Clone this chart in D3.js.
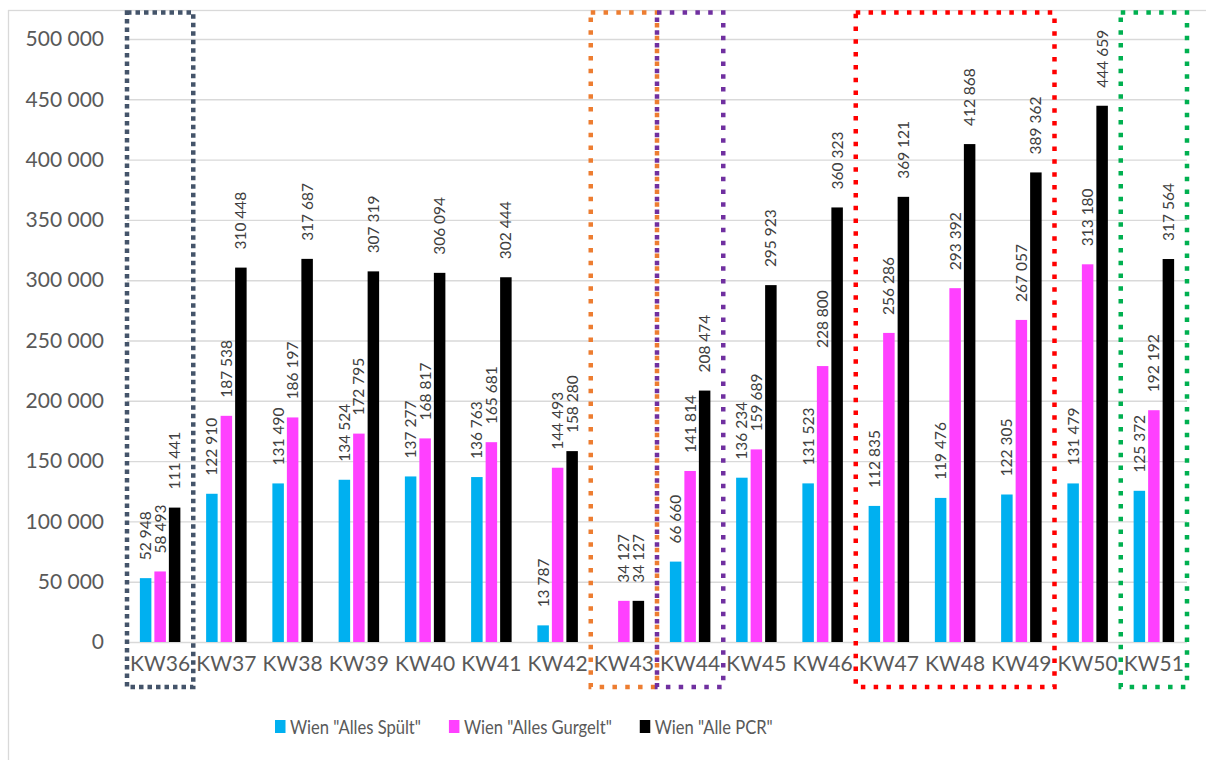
<!DOCTYPE html>
<html>
<head>
<meta charset="utf-8">
<script src="https://cdn.jsdelivr.net/npm/d3@7"></script>
<style>
  html, body { margin: 0; padding: 0; background: #fff; }
  svg { display: block; font-family: Lato, "Open Sans", sans-serif; }
</style>
</head>
<body>
<svg id="chart" width="1206" height="760"></svg>
<script>
// Weekly test counts, Vienna
const weeks = ["KW36","KW37","KW38","KW39","KW40","KW41","KW42","KW43","KW44","KW45","KW46","KW47","KW48","KW49","KW50","KW51"];
const allesSpuelt  = [52948, 122910, 131490, 134524, 137277, 136763, 13787, null, 66660, 136234, 131523, 112835, 119476, 122305, 131479, 125372];
const allesGurgelt = [58493, 187538, 186197, 172795, 168817, 165681, 144493, 34127, 141814, 159689, 228800, 256286, 293392, 267057, 313180, 192192];
const allePCR      = [111441, 310448, 317687, 307319, 306094, 302444, 158280, 34127, 208474, 295923, 360323, 369121, 412868, 389362, 444659, 317564];
const seriesNames  = ['Wien "Alles Spült"', 'Wien "Alles Gurgelt"', 'Wien "Alle PCR"'];
const seriesColors = ["#00B0F0", "#FF40FF", "#000000"];
const yTicks = [0, 50000, 100000, 150000, 200000, 250000, 300000, 350000, 400000, 450000, 500000];
// Highlighted week ranges: [first week, last week, colour]
const highlightFrom   = ["KW36", "KW43", "KW44", "KW47", "KW51"];
const highlightTo     = ["KW36", "KW43", "KW44", "KW49", "KW51"];
const highlightColors = ["#44546A", "#ED7D31", "#7030A0", "#FF0000", "#00B050"];

const series = [allesSpuelt, allesGurgelt, allePCR];

const svg = d3.select("#chart");
const plot = { left: 127, right: 1187, top: 39, bottom: 642 };

const x = d3.scaleBand().domain(weeks).range([plot.left, plot.right]).padding(0);
const y = d3.scaleLinear().domain([0, 500000]).range([plot.bottom, plot.top]);

const locale = d3.formatLocale({ decimal: ",", thousands: " ", grouping: [3], currency: ["", ""] });
const fmt = locale.format(",d");

// Chart frame
svg.append("rect")
  .attr("x", 8.5).attr("y", 10.5).attr("width", 1220).attr("height", 770)
  .attr("fill", "none").attr("stroke", "#D9D9D9").attr("stroke-width", 1.3);

// Gridlines + y tick labels
const yAxis = d3.axisLeft(y).tickValues(yTicks).tickSize(-(plot.right - plot.left)).tickPadding(23).tickFormat(fmt);
const gy = svg.append("g").attr("transform", `translate(${plot.left},0)`).call(yAxis);
gy.select(".domain").remove();
gy.selectAll(".tick line").attr("stroke", "#D9D9D9").attr("stroke-width", 1.4);
gy.selectAll(".tick text").attr("fill", "#595959").attr("font-size", 21).attr("font-family", "Lato, 'Open Sans', sans-serif");

// Category labels
const xAxis = d3.axisBottom(x).tickSize(0).tickPadding(14);
const gx = svg.append("g").attr("transform", `translate(0,${plot.bottom})`).call(xAxis);
gx.select(".domain").remove();
gx.selectAll(".tick text").attr("fill", "#595959").attr("font-size", 21).attr("font-family", "Lato, 'Open Sans', sans-serif");

// Bars
const barW = 11.5, barStep = 14.5;
const groupW = barStep * 2 + barW;
const barX = (w, s) => x(w) + x.bandwidth() / 2 - groupW / 2 + s * barStep;

series.forEach((vals, s) => {
  const data = weeks.map((w, i) => ({ w, v: vals[i] })).filter(d => d.v != null);
  svg.append("g").selectAll("rect").data(data).join("rect")
    .attr("x", d => barX(d.w, s))
    .attr("y", d => y(d.v))
    .attr("width", barW)
    .attr("height", d => y(0) - y(d.v))
    .attr("fill", seriesColors[s]);

  svg.append("g").selectAll("text").data(data).join("text")
    .attr("transform", d => `translate(${barX(d.w, s) + barW / 2},${y(d.v) - 18}) rotate(-90)`)
    .attr("dy", "0.35em")
    .attr("text-anchor", "start")
    .attr("font-size", 15.5)
    .attr("fill", "#404040")
    .text(d => fmt(d.v));
});

// Dotted highlight frames around week ranges
highlightFrom.forEach((from, i) => {
  const x0 = x(from), x1 = x(highlightTo[i]) + x.bandwidth();
  svg.append("rect")
    .attr("x", x0).attr("y", 12.5)
    .attr("width", x1 - x0).attr("height", 687 - 12.5)
    .attr("fill", "none")
    .attr("stroke", highlightColors[i])
    .attr("stroke-width", 4.5)
    .attr("stroke-dasharray", i === 0 ? "4.5 4" : "4.5 8.3");
});

// Legend (condensed text)
const legend = svg.append("g").attr("transform", "translate(275,734)");
const squeeze = 0.85;
let lx = 0;
seriesNames.forEach((name, i) => {
  legend.append("rect").attr("x", lx).attr("y", -14).attr("width", 10.5).attr("height", 13).attr("fill", seriesColors[i]);
  const t = legend.append("text")
    .attr("transform", `translate(${lx + 15},0) scale(${squeeze},1)`)
    .attr("font-size", 19.5).attr("fill", "#595959").text(name);
  lx += 15 + t.node().getComputedTextLength() * squeeze + 28;
});
</script>
</body>
</html>
